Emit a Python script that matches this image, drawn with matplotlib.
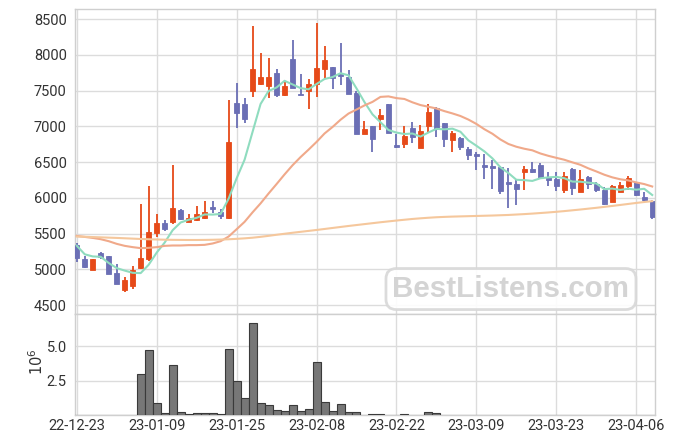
import numpy as np
import matplotlib.pyplot as plt

plt.rcParams['font.family'] = ['Roboto', 'DejaVu Sans']

tick_labels = ['22-12-23', '23-01-09', '23-01-25', '23-02-08',
               '23-02-22', '23-03-09', '23-03-23', '23-04-06']

opens = [5337, 5143, 4995, 5226, 5180, 4949, 4717, 4764, 5014, 5143,
         5504, 5643, 5661, 5824, 5667, 5689, 5712, 5865, 5800, 5722,
         7324, 7310, 7500, 7592, 7564, 7740, 7444, 7944, 7448, 7494,
         7592, 7800, 7824, 7712, 7685, 7462, 6897, 7000, 7106, 7306,
         6725, 6758, 6972, 6703, 7008, 7258, 7046, 6810, 6838, 6681,
         6600, 6462, 6444, 6430, 6205, 6194, 6356, 6407, 6462, 6286,
         6268, 6106, 6403, 6078, 6296, 6199, 6115, 5939, 6078, 6161,
         6217, 6018, 5953]
highs = [5365, 5180, 5150, 5240, 5185, 5069, 4893, 5050, 5907, 6171,
         5778, 5685, 6462, 5847, 5778, 5883, 5953, 5949, 5847, 7365,
         7611, 7389, 8403, 8028, 7958, 7806, 7629, 8208, 7736, 7667,
         8444, 8129, 7830, 8167, 7792, 7494, 7069, 7005, 7240, 7310,
         6889, 7008, 7056, 7018, 7306, 7268, 7050, 6935, 6856, 6717,
         6647, 6611, 6532, 6440, 6411, 6264, 6439, 6500, 6486, 6361,
         6361, 6365, 6417, 6383, 6310, 6227, 6147, 6175, 6217, 6310,
         6227, 6083, 5976]
lows = [5105, 5018, 4990, 5143, 4935, 4795, 4689, 4726, 5000, 5120,
        5458, 5536, 5629, 5685, 5660, 5680, 5703, 5792, 5708, 5708,
        6976, 7042, 7407, 7574, 7389, 7411, 7421, 7532, 7435, 7236,
        7411, 7681, 7528, 7583, 7449, 6893, 6893, 6647, 6949, 6907,
        6694, 6694, 6764, 6700, 6925, 6856, 6717, 6647, 6671, 6532,
        6393, 6264, 6125, 6060, 5861, 5903, 6115, 6347, 6268, 6161,
        6092, 6069, 6046, 6075, 6125, 6078, 5905, 5935, 6075, 6115,
        6030, 5962, 5699]
closes = [5153, 5028, 5143, 5175, 4939, 4800, 4851, 4990, 5157, 5522,
          5643, 5560, 5851, 5699, 5712, 5778, 5796, 5842, 5744, 6782,
          7189, 7106, 7796, 7689, 7685, 7439, 7569, 7542, 7435, 7597,
          7810, 7921, 7675, 7705, 7453, 6897, 6962, 6819, 7153, 6911,
          6715, 6861, 6856, 6935, 7199, 6967, 6828, 6907, 6717, 6597,
          6590, 6435, 6421, 6092, 6195, 6119, 6407, 6365, 6278, 6254,
          6161, 6310, 6133, 6268, 6189, 6106, 5911, 6171, 6175, 6272,
          6036, 5976, 5736]

ma_short = [5330, 5210, 5180, 5175, 5088, 5017, 4982, 4951, 4947, 5064,
            5233, 5374, 5547, 5655, 5693, 5720, 5767, 5765, 5774, 5988,
            6271, 6533, 6923, 7312, 7493, 7543, 7636, 7585, 7534, 7516,
            7591, 7661, 7688, 7742, 7713, 7530, 7338, 7167, 7057, 6948,
            6912, 6892, 6899, 6856, 6913, 6964, 6957, 6967, 6924, 6803,
            6728, 6649, 6552, 6427, 6347, 6252, 6247, 6236, 6273, 6285,
            6293, 6274, 6227, 6225, 6212, 6201, 6121, 6129, 6110, 6127,
            6113, 6126, 6039]
ma_mid = [5467, 5453, 5439, 5421, 5393, 5356, 5328, 5310, 5296, 5300,
          5310, 5328, 5333, 5333, 5338, 5338, 5342, 5361, 5393, 5458,
          5560, 5664, 5797, 5922, 6060, 6192, 6327, 6455, 6569, 6673,
          6781, 6899, 6990, 7091, 7178, 7234, 7292, 7341, 7411, 7418,
          7394, 7382, 7335, 7297, 7273, 7249, 7212, 7180, 7144, 7094,
          7033, 6959, 6896, 6816, 6753, 6714, 6686, 6664, 6620, 6587,
          6559, 6532, 6496, 6462, 6412, 6369, 6323, 6286, 6259, 6243,
          6215, 6192, 6158]
ma_long = [5458, 5455, 5451, 5447, 5443, 5439, 5434, 5429, 5424, 5420,
           5417, 5414, 5412, 5411, 5410, 5410, 5411, 5413, 5416, 5420,
           5426, 5433, 5442, 5454, 5468, 5483, 5497, 5511, 5524, 5537,
           5550, 5564, 5578, 5592, 5606, 5619, 5632, 5645, 5658, 5670,
           5682, 5693, 5704, 5713, 5721, 5728, 5733, 5737, 5740, 5743,
           5746, 5749, 5752, 5756, 5760, 5766, 5772, 5779, 5787, 5795,
           5804, 5814, 5825, 5836, 5848, 5860, 5873, 5886, 5900, 5914,
           5928, 5941, 5953]

# volume in millions
volume_mn = [0, 0, 0, 0, 0, 0, 0, 0, 2.97, 4.71,
             0.85, 0.12, 3.62, 0.22, 0.07, 0.12, 0.12, 0.12, 0.07, 4.78,
             2.46, 1.23, 6.67, 0.85, 0.70, 0.36, 0.29, 0.72, 0.29, 0.43,
             3.84, 0.94, 0.29, 0.82, 0.20, 0.20, 0.03, 0.07, 0.07, 0.03,
             0.03, 0.08, 0.03, 0.03, 0.24, 0.12, 0.03, 0.03, 0.03, 0.03,
             0.03, 0.03, 0.03, 0.03, 0, 0.03, 0.03, 0, 0, 0,
             0.03, 0.03, 0.03, 0.03, 0, 0, 0.03, 0, 0, 0.03,
             0, 0, 0.03]

up_col = '#e64a19'
down_col = '#6b6fb5'
grid_col = '#dcdcdc'
text_col = '#333333'

o = np.array(opens, dtype=float)
c = np.array(closes, dtype=float)
x = np.arange(len(o))
cols = [up_col if cc >= oo else down_col for oo, cc in zip(o, c)]
body_lo = np.minimum(o, c)
body_h = np.maximum(np.abs(c - o), 22)

fig = plt.figure(figsize=(6.75, 4.44), dpi=100)
ax = fig.add_axes([0.1111, 0.2928, 0.8593, 0.6869])
ax2 = fig.add_axes([0.1111, 0.0653, 0.8593, 0.2275], sharex=ax)

ax.vlines(x, lows, highs, colors=cols, linewidth=1.3, zorder=3)
ax.bar(x, body_h, bottom=body_lo, width=0.62, color=cols, edgecolor=cols,
       linewidth=0.6, zorder=4)
ax.plot(x, ma_short, color='#8fdcbf', linewidth=1.5, zorder=5)
ax.plot(x, ma_mid, color='#f0a98a', linewidth=1.5, zorder=5)
ax.plot(x, ma_long, color='#f5c79c', linewidth=1.5, zorder=5)

ax.set_ylim(4375, 8640)
ax.set_xlim(-0.22, 72.35)
ax.set_yticks(np.arange(4500, 8501, 500))
ax.set_xticks(np.arange(0, 73, 10))
ax.grid(True, color=grid_col, linewidth=1)
ax.set_axisbelow(True)
ax.tick_params(length=0, labelsize=10.5, colors=text_col, pad=6)
ax.tick_params(axis='x', labelbottom=False)

ax2.bar(x, volume_mn, width=1.0, color='#777777', edgecolor='#3a3a3a',
        linewidth=0.8, zorder=3)
ax2.set_ylim(0, 7.32)
ax2.set_yticks([2.5, 5.0])
ax2.set_yticklabels(['2.5', '5.0'])
ax2.set_xticks(np.arange(0, 73, 10))
ax2.set_xticklabels(tick_labels)
ax2.grid(True, color=grid_col, linewidth=1)
ax2.set_axisbelow(True)
ax2.tick_params(length=0, labelsize=10.5, colors=text_col, pad=6)
ax2.tick_params(axis='x', pad=3)
ax2.set_ylabel('$10^6$', fontsize=10.5, color=text_col)
ax2.yaxis.set_label_coords(-0.05, 0.53)

for a in (ax, ax2):
    for s in a.spines.values():
        s.set_color('#cfcfcf')
        s.set_linewidth(1)

fig.text(0.757, 0.349, 'BestListens.com', fontsize=21.3, fontweight='bold',
         family='Liberation Sans', color='#d4d4d4', ha='center', va='center',
         zorder=10,
         bbox=dict(boxstyle='round,pad=0.22,rounding_size=0.35', fc='white',
                   ec='#d8d8d8', lw=2, alpha=0.9))

fig.savefig('out.png', dpi=100)
